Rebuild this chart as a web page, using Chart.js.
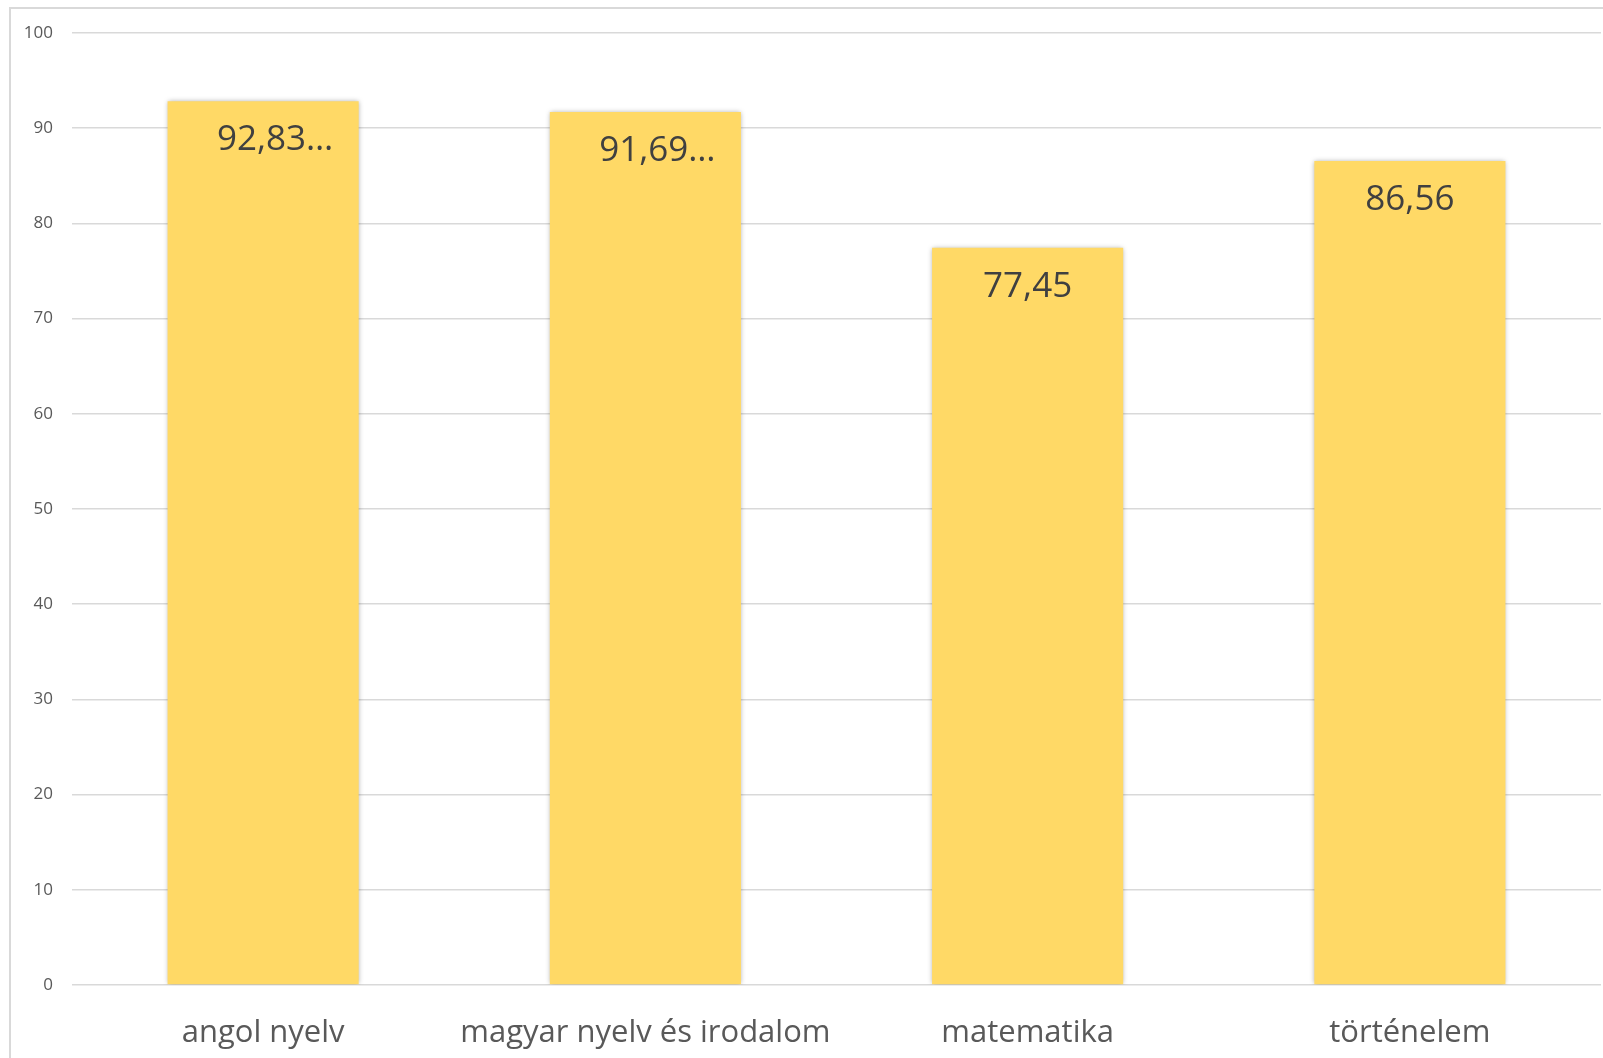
<!DOCTYPE html>
<html>
<head>
<meta charset="utf-8">
<script src="https://cdn.jsdelivr.net/npm/chart.js@4"></script>
<style>
  html, body { margin: 0; padding: 0; background: #fff; }
  #wrap { position: absolute; left: 0; top: 0; width: 1603px; height: 1058px; }
</style>
</head>
<body>
<div id="wrap"><canvas id="atlagChart"></canvas></div>
<script>
// ================================
// DATA
// ================================
const subjects = ["angol nyelv", "magyar nyelv és irodalom", "matematika", "történelem"];
const averages = [92.83, 91.69, 77.45, 86.56];
const valueLabels = ["92,83…", "91,69…", "77,45", "86,56"];
const yTicks = [0, 10, 20, 30, 40, 50, 60, 70, 80, 90, 100];

const FONT = "'Open Sans', sans-serif";

// frame around the chart (only left + top are visible in the crop)
const framePlugin = {
  id: "frame",
  beforeDraw(chart) {
    const ctx = chart.ctx;
    ctx.save();
    ctx.strokeStyle = "#d9d9d9";
    ctx.lineWidth = 2;
    ctx.beginPath();
    ctx.moveTo(10, 1058);
    ctx.lineTo(10, 8);
    ctx.lineTo(1603, 8);
    ctx.stroke();
    ctx.restore();
  }
};

// soft shadow behind the bars, like excel
const shadowPlugin = {
  id: "barShadow",
  beforeDatasetsDraw(chart) {
    const ctx = chart.ctx;
    ctx.save();
    ctx.shadowColor = "rgba(0,0,0,0.35)";
    ctx.shadowBlur = 5;
    ctx.shadowOffsetX = 0;
    ctx.shadowOffsetY = 0;
  },
  afterDatasetsDraw(chart) {
    chart.ctx.restore();
  }
};

// value labels inside the top of each bar
const labelPlugin = {
  id: "valueLabels",
  afterDatasetsDraw(chart) {
    const ctx = chart.ctx;
    const meta = chart.getDatasetMeta(0);
    ctx.save();
    ctx.font = "35px " + FONT;
    ctx.fillStyle = "#404040";
    ctx.textAlign = "center";
    ctx.textBaseline = "middle";
    meta.data.forEach((bar, i) => {
      const txt = valueLabels[i];
      const shift = txt.endsWith("…") ? 12 : 0;
      ctx.fillText(txt, bar.x + shift, bar.y + 39);
    });
    ctx.restore();
  }
};

const ctx = document.getElementById("atlagChart").getContext("2d");

new Chart(ctx, {
  type: "bar",
  data: {
    labels: subjects,
    datasets: [{
      data: averages,
      backgroundColor: "#ffd966",
      borderWidth: 0,
      barPercentage: 0.5,
      categoryPercentage: 1
    }]
  },
  options: {
    responsive: true,
    maintainAspectRatio: false,
    animation: false,
    layout: { padding: { left: 10, right: 2, top: 33, bottom: 0 } },
    plugins: {
      legend: { display: false },
      tooltip: { enabled: false }
    },
    scales: {
      x: {
        grid: { display: false, drawTicks: false },
        border: { display: false },
        ticks: {
          color: "#595959",
          font: { family: FONT, size: 31 },
          padding: 30,
          maxRotation: 0,
          autoSkip: false
        },
        afterFit: axis => { axis.height = 73; }
      },
      y: {
        min: 0,
        max: 100,
        afterBuildTicks: axis => { axis.ticks = yTicks.map(v => ({ value: v })); },
        grid: { color: "#d9d9d9", lineWidth: 1.5, drawTicks: false },
        border: { display: false },
        ticks: {
          color: "#595959",
          font: { family: FONT, size: 17 },
          padding: 19
        },
        afterFit: axis => { axis.width = 62; }
      }
    }
  },
  plugins: [framePlugin, shadowPlugin, labelPlugin]
});
</script>
</body>
</html>
